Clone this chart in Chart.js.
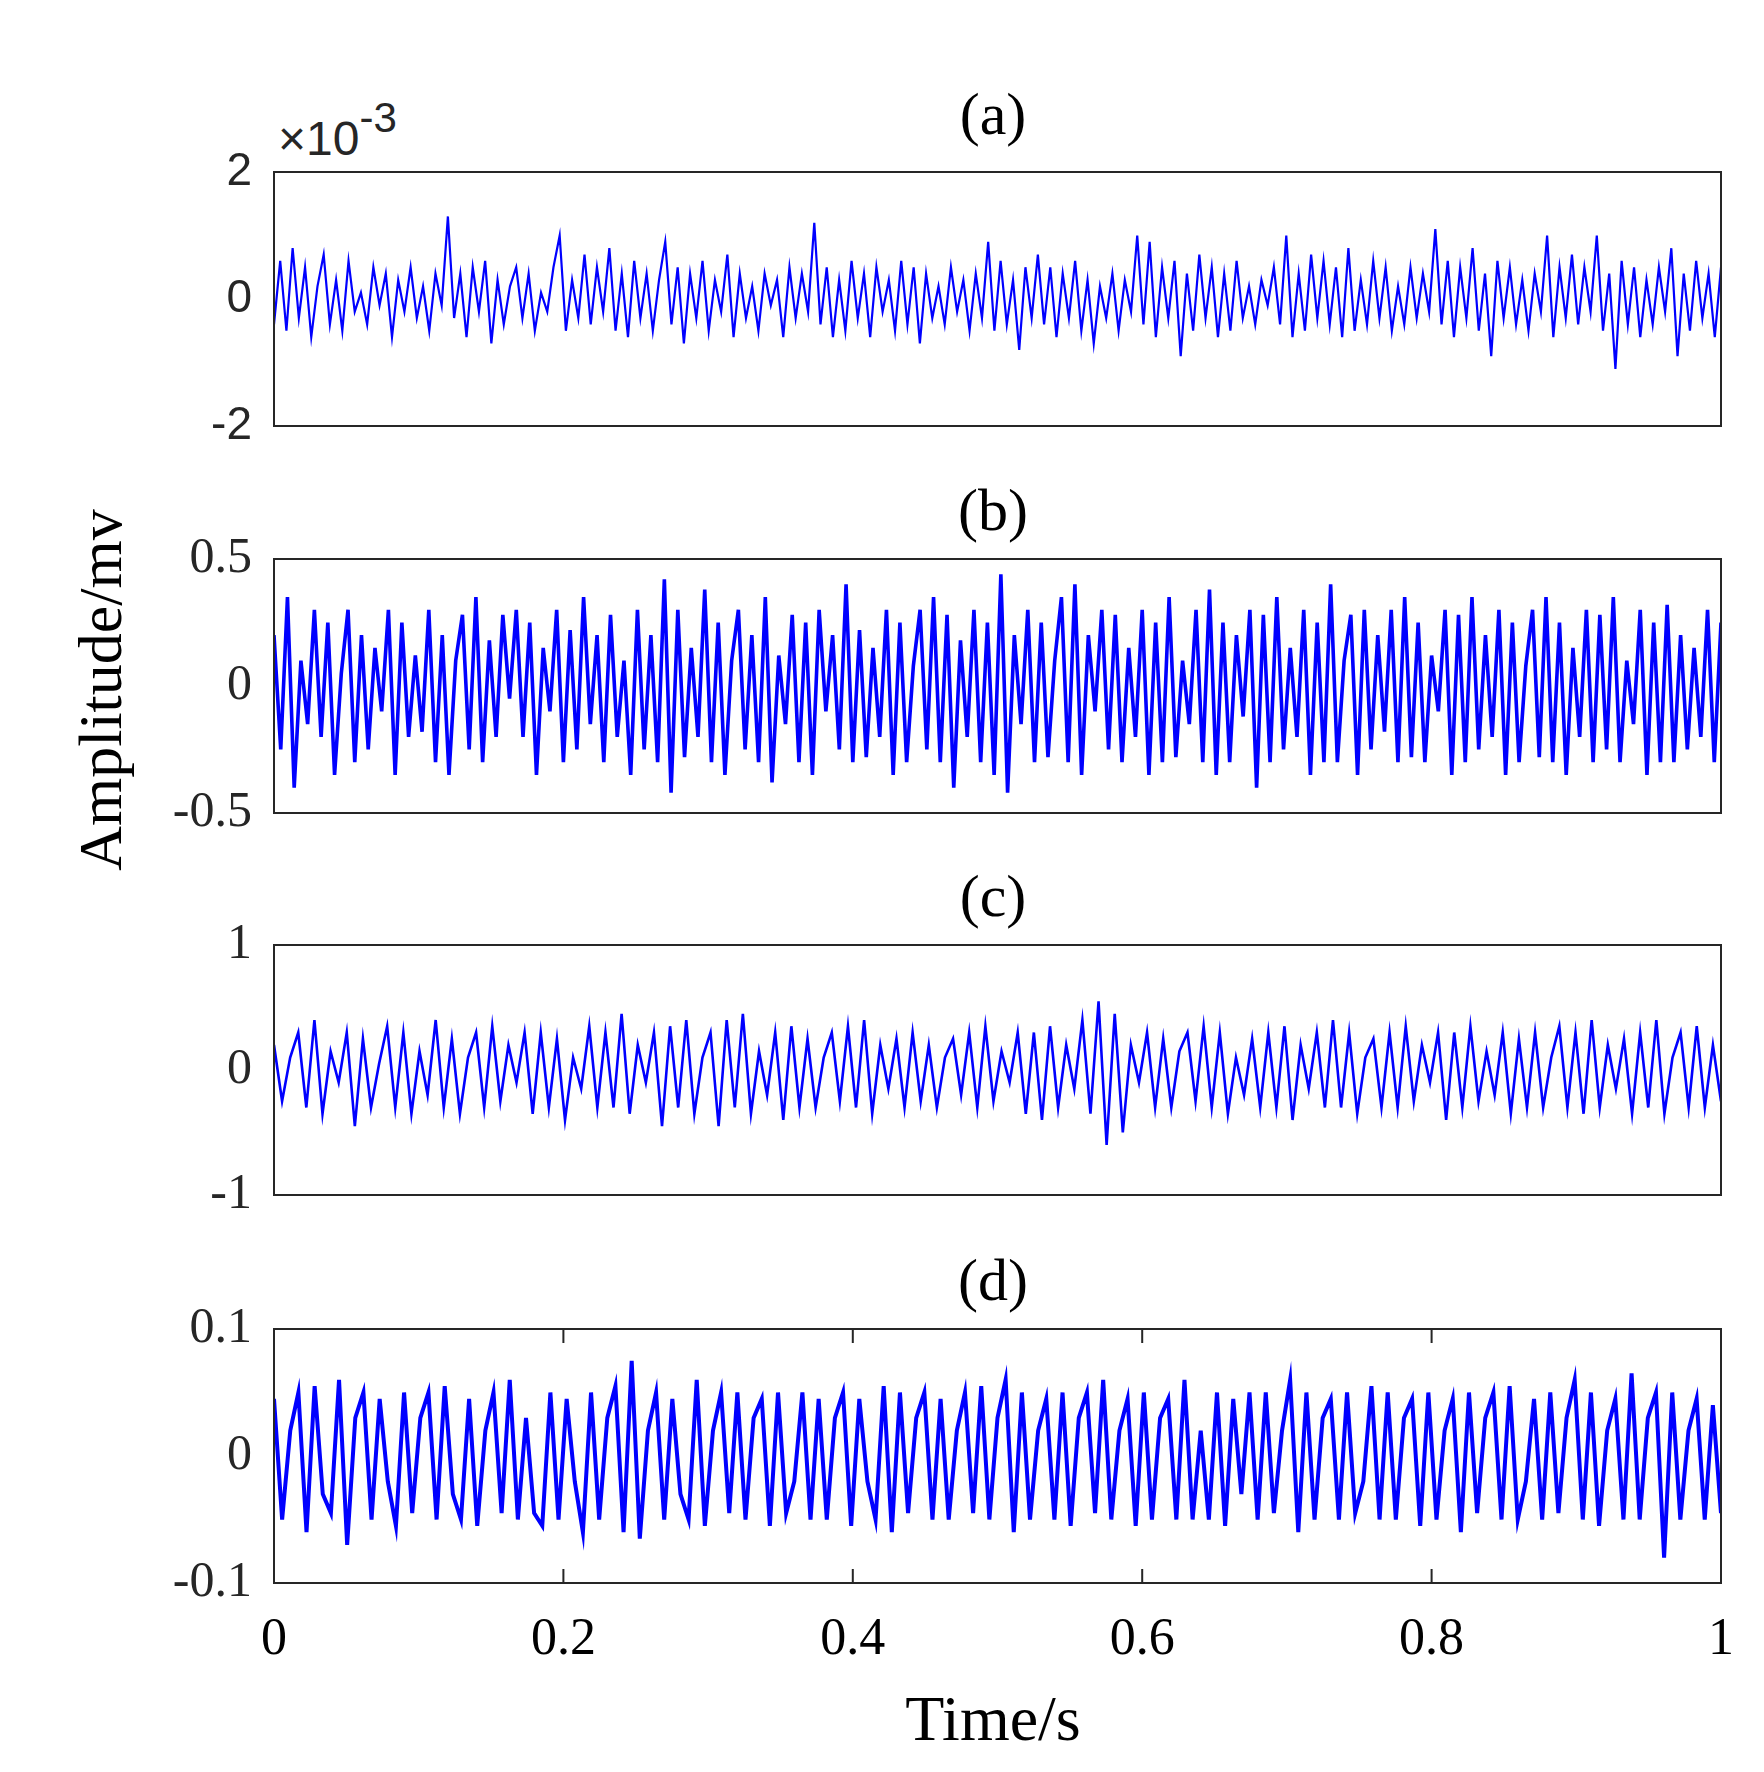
<!DOCTYPE html>
<html><head><meta charset="utf-8">
<script src="https://cdn.jsdelivr.net/npm/chart.js@4"></script>
<style>
body{margin:0;width:1764px;height:1772px;background:#fff;position:relative;overflow:hidden}
.w{position:absolute;left:0;width:1764px}
.t{position:absolute;font-family:"Liberation Serif";font-size:60px;color:#000;transform:translateX(-50%)}
</style></head><body>
<div class="t" style="left:993px;top:80px">(a)</div>
<div class="t" style="left:993px;top:476px">(b)</div>
<div class="t" style="left:993px;top:862px">(c)</div>
<div class="t" style="left:993px;top:1246px">(d)</div>
<div style="position:absolute;left:278px;top:100px;font-family:'Liberation Sans';font-size:48px;color:#262626">&times;10<sup style="font-size:42px;position:relative;top:-6px">-3</sup></div>
<div style="position:absolute;left:100px;top:690px;font-family:'Liberation Serif';font-size:62px;transform:translate(-50%,-50%) rotate(-90deg);white-space:nowrap">Amplitude/mv</div>
<div class="t" style="left:993px;top:1682px;font-size:64px">Time/s</div>
<div class="w" id="w0"><canvas id="c0"></canvas></div><div class="w" id="w1"><canvas id="c1"></canvas></div><div class="w" id="w2"><canvas id="c2"></canvas></div><div class="w" id="w3"><canvas id="c3"></canvas></div>
<script>
const xTicks=[0,0.2,0.4,0.6,0.8,1];
const ampA=[-0.4,0.6,-0.5,0.8,-0.3,0.5,-0.6,0.2,0.7,-0.4,0.3,-0.5,0.6,-0.2,0.1,-0.4,0.5,-0.1,0.4,-0.6,0.3,-0.2,0.5,-0.3,0.2,-0.5,0.4,-0.1,1.3,-0.3,0.4,-0.6,0.5,-0.2,0.6,-0.7,0.3,-0.4,0.2,0.5,-0.3,0.4,-0.5,0.1,-0.2,0.5,1.0,-0.5,0.3,-0.3,0.7,-0.4,0.5,-0.2,0.8,-0.5,0.4,-0.6,0.6,-0.3,0.4,-0.5,0.3,0.9,-0.4,0.5,-0.7,0.4,-0.3,0.6,-0.5,0.3,-0.2,0.7,-0.6,0.4,-0.3,0.2,-0.5,0.4,-0.1,0.3,-0.6,0.5,-0.3,0.4,-0.2,1.2,-0.4,0.5,-0.6,0.3,-0.5,0.6,-0.3,0.4,-0.6,0.5,-0.2,0.3,-0.5,0.6,-0.4,0.5,-0.7,0.4,-0.3,0.2,-0.4,0.5,-0.2,0.3,-0.5,0.4,-0.3,0.9,-0.5,0.6,-0.4,0.3,-0.8,0.5,-0.3,0.7,-0.4,0.5,-0.6,0.4,-0.3,0.6,-0.5,0.3,-0.7,0.2,-0.3,0.4,-0.5,0.3,-0.2,1.0,-0.4,0.9,-0.6,0.5,-0.3,0.6,-0.9,0.4,-0.5,0.7,-0.3,0.5,-0.6,0.4,-0.5,0.6,-0.3,0.2,-0.4,0.3,-0.1,0.5,-0.4,1.0,-0.6,0.4,-0.5,0.7,-0.3,0.6,-0.4,0.5,-0.6,0.8,-0.5,0.3,-0.4,0.6,-0.3,0.5,-0.5,0.2,-0.4,0.5,-0.3,0.4,-0.2,1.1,-0.4,0.6,-0.6,0.5,-0.3,0.8,-0.5,0.4,-0.9,0.6,-0.3,0.5,-0.4,0.3,-0.5,0.4,-0.2,1.0,-0.6,0.5,-0.3,0.7,-0.4,0.5,-0.2,1.0,-0.5,0.4,-1.1,0.6,-0.4,0.5,-0.6,0.3,-0.4,0.5,-0.2,0.8,-0.9,0.4,-0.5,0.6,-0.3,0.4,-0.6,0.5];
const ampB=[0.2,-0.25,0.35,-0.4,0.1,-0.15,0.3,-0.2,0.25,-0.35,0.05,0.3,-0.3,0.2,-0.25,0.15,-0.1,0.3,-0.35,0.25,-0.2,0.12,-0.18,0.3,-0.3,0.2,-0.35,0.1,0.28,-0.25,0.35,-0.3,0.18,-0.2,0.28,-0.05,0.3,-0.2,0.25,-0.35,0.15,-0.1,0.3,-0.3,0.22,-0.25,0.35,-0.15,0.2,-0.3,0.28,-0.2,0.1,-0.35,0.3,-0.25,0.2,-0.3,0.42,-0.42,0.3,-0.28,0.15,-0.2,0.38,-0.3,0.25,-0.35,0.1,0.3,-0.25,0.2,-0.3,0.35,-0.38,0.12,-0.15,0.28,-0.3,0.25,-0.35,0.3,-0.1,0.2,-0.25,0.4,-0.3,0.22,-0.28,0.15,-0.2,0.3,-0.35,0.25,-0.3,0.08,0.3,-0.25,0.35,-0.3,0.28,-0.4,0.18,-0.2,0.3,-0.3,0.25,-0.35,0.44,-0.42,0.2,-0.15,0.3,-0.3,0.25,-0.28,0.1,0.35,-0.3,0.4,-0.35,0.2,-0.1,0.3,-0.25,0.28,-0.3,0.15,-0.2,0.3,-0.35,0.25,-0.3,0.35,-0.28,0.1,-0.15,0.3,-0.3,0.38,-0.35,0.25,-0.3,0.2,-0.12,0.3,-0.4,0.28,-0.3,0.35,-0.25,0.15,-0.2,0.3,-0.35,0.25,-0.3,0.4,-0.3,0.1,0.28,-0.35,0.3,-0.25,0.2,-0.18,0.3,-0.3,0.35,-0.28,0.25,-0.3,0.12,-0.1,0.3,-0.35,0.28,-0.3,0.35,-0.25,0.2,-0.2,0.3,-0.35,0.25,-0.3,0.08,0.3,-0.28,0.35,-0.3,0.25,-0.35,0.15,-0.2,0.3,-0.3,0.28,-0.25,0.35,-0.3,0.1,-0.15,0.3,-0.35,0.25,-0.3,0.32,-0.3,0.2,-0.25,0.15,-0.2,0.3,-0.3,0.25];
const ampC=[0.2,-0.25,0.1,0.3,-0.3,0.4,-0.35,0.15,-0.1,0.3,-0.45,0.25,-0.3,0.05,0.35,-0.3,0.3,-0.35,0.15,-0.2,0.4,-0.3,0.25,-0.35,0.1,0.3,-0.3,0.35,-0.25,0.2,-0.1,0.3,-0.35,0.3,-0.3,0.25,-0.4,0.1,-0.15,0.35,-0.3,0.3,-0.3,0.45,-0.35,0.2,-0.1,0.3,-0.45,0.35,-0.3,0.4,-0.35,0.1,0.3,-0.45,0.4,-0.3,0.45,-0.35,0.15,-0.2,0.3,-0.4,0.35,-0.3,0.25,-0.3,0.1,0.3,-0.25,0.35,-0.3,0.4,-0.35,0.2,-0.15,0.25,-0.3,0.3,-0.25,0.2,-0.3,0.1,0.25,-0.2,0.3,-0.3,0.35,-0.25,0.15,-0.1,0.3,-0.35,0.3,-0.4,0.35,-0.3,0.2,-0.15,0.4,-0.35,0.55,-0.6,0.45,-0.5,0.2,-0.1,0.3,-0.3,0.25,-0.3,0.15,0.3,-0.25,0.35,-0.3,0.3,-0.35,0.1,-0.2,0.25,-0.3,0.3,-0.3,0.35,-0.4,0.2,-0.15,0.3,-0.3,0.4,-0.3,0.3,-0.35,0.1,0.25,-0.3,0.3,-0.3,0.35,-0.25,0.2,-0.1,0.3,-0.4,0.3,-0.3,0.35,-0.25,0.15,-0.2,0.3,-0.35,0.25,-0.3,0.3,-0.3,0.1,0.35,-0.3,0.3,-0.35,0.4,-0.3,0.2,-0.15,0.25,-0.35,0.3,-0.3,0.4,-0.35,0.1,0.3,-0.3,0.35,-0.3,0.2,-0.25];
const ampD=[0.045,-0.05,0.02,0.05,-0.06,0.055,-0.03,-0.045,0.06,-0.07,0.03,0.05,-0.05,0.045,-0.02,-0.055,0.05,-0.045,0.03,0.05,-0.05,0.055,-0.03,-0.05,0.045,-0.055,0.02,0.05,-0.045,0.06,-0.05,0.03,-0.045,-0.055,0.05,-0.05,0.045,-0.02,-0.06,0.05,-0.05,0.03,0.055,-0.06,0.075,-0.065,0.02,0.05,-0.05,0.045,-0.03,-0.05,0.06,-0.055,0.02,0.05,-0.045,0.05,-0.05,0.03,0.045,-0.055,0.05,-0.045,-0.02,0.05,-0.05,0.045,-0.05,0.03,0.05,-0.055,0.045,-0.02,-0.05,0.055,-0.06,0.05,-0.045,0.03,0.05,-0.05,0.045,-0.05,0.02,0.05,-0.045,0.055,-0.05,0.03,0.06,-0.06,0.05,-0.05,0.02,0.045,-0.05,0.05,-0.055,0.03,0.05,-0.045,0.06,-0.05,0.02,0.045,-0.055,0.05,-0.05,0.03,0.045,-0.05,0.06,-0.05,0.02,-0.05,0.05,-0.055,0.045,-0.03,0.05,-0.05,0.05,-0.045,0.02,0.06,-0.06,0.05,-0.05,0.03,0.045,-0.05,0.05,-0.045,-0.02,0.055,-0.05,0.05,-0.05,0.03,0.045,-0.055,0.05,-0.05,0.02,0.045,-0.06,0.05,-0.045,0.03,0.05,-0.05,0.055,-0.05,-0.02,0.045,-0.05,0.05,-0.045,0.03,0.06,-0.05,0.05,-0.055,0.02,0.045,-0.05,0.065,-0.05,0.03,0.05,-0.08,0.05,-0.05,0.02,0.045,-0.05,0.04,-0.045];
const panels=[
 {id:'c0',data:ampA,min:-2,max:2,top:172,h:254,font:'Liberation Sans',fs:46,xaxis:false,lw:2.2},
 {id:'c1',data:ampB,min:-0.5,max:0.5,top:559,h:254,font:'Liberation Serif',fs:50,xaxis:false,lw:3.6},
 {id:'c2',data:ampC,min:-1,max:1,top:945,h:250,font:'Liberation Serif',fs:50,xaxis:false,lw:2.6},
 {id:'c3',data:ampD,min:-0.1,max:0.1,top:1329,h:254,font:'Liberation Serif',fs:50,xaxis:true,lw:4}
];
const frame={id:'frame',afterDatasetsDraw(ch,a,o){const c=ch.ctx,A=ch.chartArea;c.save();c.strokeStyle='#262626';c.lineWidth=2;c.strokeRect(A.left,A.top,A.right-A.left,A.bottom-A.top);
 if(o.ticks){const s=ch.scales.x;xTicks.forEach(v=>{const p=s.getPixelForValue(v);c.beginPath();c.moveTo(p,A.bottom);c.lineTo(p,A.bottom-14);c.moveTo(p,A.top);c.lineTo(p,A.top+14);c.stroke();});}
 c.restore();}};
panels.forEach((P,k)=>{
 const w=document.getElementById('w'+k);const padT=50;const bottomH=P.xaxis?150:50;
 const H=P.h+padT+bottomH;w.style.height=H+'px';w.style.top=(P.top-padT)+'px';
 const n=P.data.length;
 new Chart(document.getElementById(P.id),{type:'line',data:{datasets:[{data:P.data.map((v,i)=>({x:i/(n-1),y:v})),borderColor:'#0000ff',borderWidth:P.lw,pointRadius:0,tension:0,borderJoinStyle:'miter'}]},
 plugins:[frame],
 options:{responsive:true,maintainAspectRatio:false,animation:false,layout:{padding:{top:padT,right:43,left:0,bottom:P.xaxis?0:50}},
 plugins:{legend:{display:false},tooltip:{enabled:false},frame:{ticks:P.xaxis}},
 scales:{x:{type:'linear',min:0,max:1,display:P.xaxis,afterFit(s){if(P.xaxis)s.height=150;else s.height=0;},afterBuildTicks(s){s.ticks=xTicks.map(v=>({value:v}));},
   grid:{display:false},border:{display:false},ticks:{font:{family:'Liberation Serif',size:52},color:'#000',padding:18,maxRotation:0,callback:v=>String(v)}},
  y:{min:P.min,max:P.max,afterFit(s){s.width=274;},afterBuildTicks(s){s.ticks=[P.min,0,P.max].map(v=>({value:v}));},grid:{display:false},border:{display:false},
   ticks:{font:{family:P.font,size:P.fs},color:'#262626',padding:14,callback:v=>String(v)}}}}});
});
</script></body></html>
